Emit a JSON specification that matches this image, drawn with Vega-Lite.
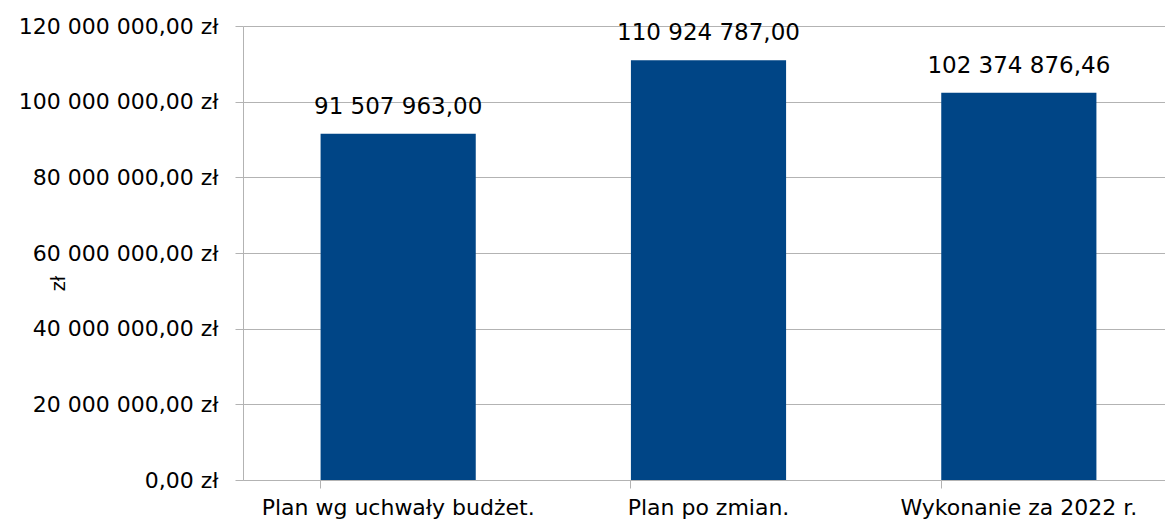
{
  "$schema": "https://vega.github.io/schema/vega-lite/v6.json",
  "autosize": {"type": "none"},
  "width": 922,
  "height": 454,
  "padding": {"left": 243, "top": 26, "right": 0, "bottom": 45},
  "background": "white",
  "config": {
    "locale": {"number": {"decimal": ",", "thousands": " ", "grouping": [3], "currency": ["", " zł"]}},
    "view": {"stroke": null},
    "font": "DejaVu Sans",
    "axis": {"labelFont": "DejaVu Sans", "titleFont": "DejaVu Sans", "labelColor": "#000000", "titleColor": "#000000"}
  },
  "data": {
    "values": [
      {"kategoria": "Plan wg uchwały budżet.", "kwota": 91507963.00},
      {"kategoria": "Plan po zmian.", "kwota": 110924787.00},
      {"kategoria": "Wykonanie za 2022 r.", "kwota": 102374876.46}
    ]
  },
  "encoding": {
    "x": {
      "field": "kategoria",
      "type": "nominal",
      "sort": null,
      "scale": {"paddingInner": 0.5, "paddingOuter": 0.25, "range": [0, 931]}
    },
    "y": {
      "field": "kwota",
      "type": "quantitative",
      "scale": {"domain": [0, 120000000], "nice": false},
      "axis": {
        "title": "zł",
        "titleFontSize": 19,
        "titleFontWeight": "normal",
        "titleX": -175,
        "titleY": 257,
        "titleAngle": -90,
        "titleAlign": "center",
        "titleBaseline": "bottom",
        "values": [0, 20000000, 40000000, 60000000, 80000000, 100000000, 120000000],
        "format": "$,.2f",
        "labelFontSize": 22,
        "labelPadding": 17,
        "labelLimit": 400,
        "tickSize": 8,
        "tickColor": "#b3b3b3",
        "domainColor": "#b3b3b3",
        "gridColor": "#b3b3b3",
        "grid": true
      }
    }
  },
  "layer": [
    {
      "mark": {"type": "bar", "color": "#004586"},
      "encoding": {
        "x": {
          "field": "kategoria",
          "type": "nominal",
          "sort": null,
          "axis": {
            "orient": "bottom",
            "title": null,
            "labelAngle": 0,
            "labelFontSize": 22,
            "labelPadding": 17,
            "labelLimit": 400,
            "ticks": false,
            "domain": false,
            "grid": false
          }
        }
      }
    },
    {
      "mark": {"type": "text", "fontSize": 23, "baseline": "alphabetic", "dy": -20, "color": "#000000"},
      "encoding": {
        "text": {"field": "kwota", "type": "quantitative", "format": ",.2f"},
        "x": {
          "field": "kategoria",
          "type": "nominal",
          "sort": null,
          "axis": {
            "orient": "bottom",
            "title": null,
            "labels": false,
            "bandPosition": 0,
            "ticks": true,
            "tickSize": 8,
            "tickColor": "#b3b3b3",
            "domain": true,
            "domainColor": "#b3b3b3",
            "grid": false
          }
        }
      }
    }
  ],
  "resolve": {"axis": {"x": "independent"}}
}
